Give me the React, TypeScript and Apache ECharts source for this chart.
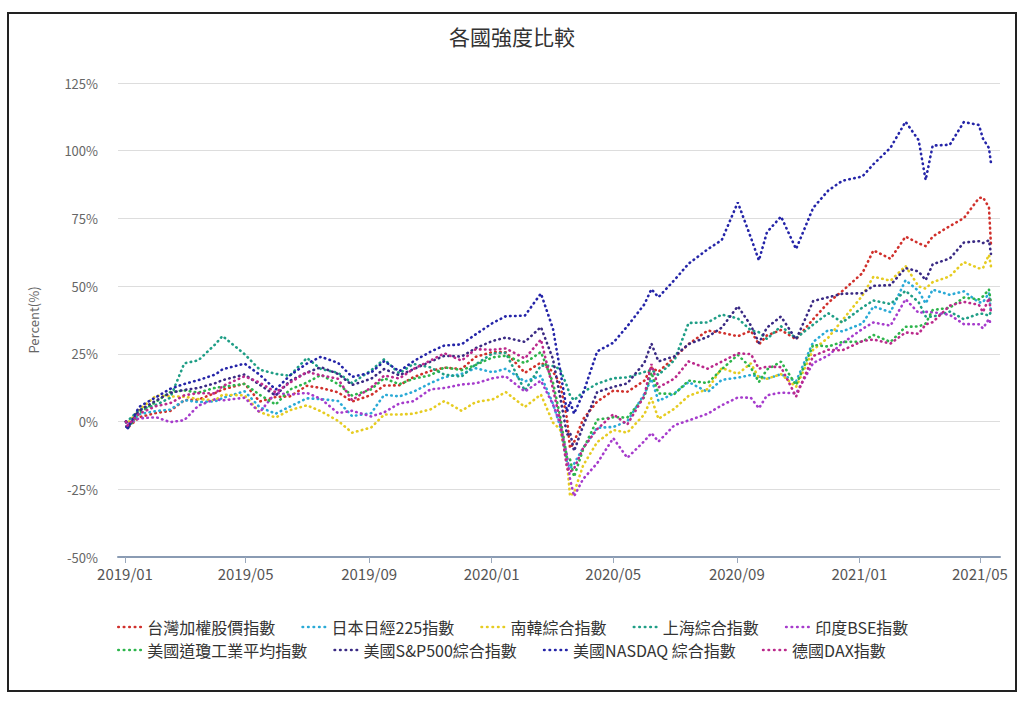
import React, { useEffect, useRef } from "react";
import * as echarts from "echarts";

const dates = [
  "2019-01-02", "2019-01-03", "2019-01-15", "2019-02-01", "2019-02-15", "2019-03-01", "2019-03-15", "2019-04-01", "2019-04-08", "2019-04-30",
  "2019-05-15", "2019-05-31", "2019-06-14", "2019-07-01", "2019-07-15", "2019-08-01", "2019-08-15", "2019-09-03", "2019-09-16", "2019-10-01",
  "2019-10-15", "2019-11-01", "2019-11-15", "2019-12-02", "2019-12-16",
  "2020-01-02", "2020-01-15", "2020-02-03", "2020-02-19", "2020-03-02", "2020-03-09", "2020-03-16", "2020-03-19", "2020-03-23", "2020-04-01",
  "2020-04-15", "2020-05-01", "2020-05-15", "2020-06-01", "2020-06-08", "2020-06-15", "2020-07-01", "2020-07-15", "2020-08-03", "2020-08-17",
  "2020-09-02", "2020-09-15", "2020-09-23", "2020-10-01", "2020-10-15", "2020-10-30", "2020-11-16", "2020-12-01", "2020-12-15",
  "2021-01-04", "2021-01-15", "2021-02-01", "2021-02-16", "2021-03-01", "2021-03-08", "2021-03-15", "2021-04-01", "2021-04-15", "2021-04-30",
  "2021-05-04", "2021-05-10", "2021-05-12",
];

const taiwan = [
  0, -2.5, 1.6, 3.2, 3.9, 7.9, 8.1, 10.6, 11.8, 14.0, 7.4, 9.1, 9.3, 13.2, 12.4, 10.8, 7.4, 9.8, 13.3, 13.4, 16.4, 18.7, 19.9, 19.4, 23.9,
  25.7, 25.6, 18.0, 21.8, 18.4, 14.1, 1.0, -9.8, -7.6, 0.9, 7.4, 11.4, 11.0, 15.1, 20.0, 18.4, 23.7, 28.6, 33.6, 32.8, 31.5, 33.5, 28.5, 31.8, 33.8, 30.4, 37.8, 43.9, 48.2,
  54.8, 63.2, 60.1, 68.3, 65.8, 64.8, 68.3, 72.2, 75.1, 82.5, 82.8, 79.1, 65.2,
];
const nikkei = [
  0, -2.3, 2.7, 3.9, 4.4, 7.9, 7.2, 7.5, 8.7, 11.2, 5.3, 2.9, 5.5, 8.6, 8.3, 7.6, 2.0, 3.1, 9.9, 9.3, 11.0, 14.2, 16.4, 17.6, 19.7,
  18.2, 19.5, 14.8, 16.9, 6.6, -1.6, -15.0, -17.3, -15.6, -9.7, -2.3, -2.0, 0.1, 10.2, 15.8, 7.6, 10.5, 14.6, 10.9, 15.4, 16.2, 17.2, 16.6, 15.8, 17.5, 14.8, 29.4, 33.8, 33.3,
  36.2, 42.5, 40.4, 52.2, 48.2, 43.6, 48.7, 46.8, 48.1, 44.0, 44.0, 47.5, 40.6,
];
const kospi = [
  0, -0.8, 4.3, 9.6, 9.3, 9.2, 8.3, 7.9, 9.9, 9.7, 3.5, 1.5, 4.2, 6.0, 3.8, 0.3, -4.1, -2.2, 2.6, 2.6, 2.9, 4.5, 7.6, 4.0, 7.2,
  8.2, 10.9, 5.4, 10.0, -0.4, -2.8, -14.7, -27.5, -26.3, -16.2, -7.6, -3.1, -4.1, 2.7, 8.7, 1.0, 4.8, 9.5, 12.0, 19.8, 17.6, 21.5, 16.1, 15.8, 17.5, 12.8, 26.5, 31.0, 37.4,
  46.5, 53.5, 52.0, 57.4, 49.9, 49.1, 51.5, 53.6, 58.9, 56.6, 56.6, 61.6, 57.3,
];
const shanghai = [
  0, 0.0, 4.3, 6.2, 8.8, 21.5, 22.6, 28.6, 31.6, 24.9, 19.2, 17.6, 16.9, 23.5, 19.4, 18.0, 14.2, 18.9, 23.0, 17.8, 21.3, 20.0, 17.3, 16.6, 21.1,
  25.2, 25.4, 11.4, 20.7, 20.5, 19.4, 13.1, 9.6, 7.9, 10.9, 14.0, 16.0, 16.3, 18.3, 19.1, 17.2, 22.7, 36.4, 36.6, 39.5, 38.1, 33.7, 33.0, 30.5, 35.2, 30.8, 35.8, 40.0, 36.6,
  42.1, 44.7, 43.4, 48.3, 44.1, 38.8, 38.7, 40.6, 37.8, 39.8, 39.8, 39.1, 40.5,
];
const sensex = [
  0, -1.1, 1.2, 1.6, -0.2, 0.5, 5.9, 8.3, 7.8, 8.8, 3.4, 10.7, 9.9, 10.6, 8.4, 3.1, 4.0, 1.9, 3.4, 6.7, 7.5, 11.9, 12.4, 13.7, 14.1,
  16.0, 16.7, 11.1, 15.1, 6.3, -0.7, -12.5, -21.2, -27.6, -21.2, -15.4, -6.1, -13.4, -7.2, -4.2, -7.4, -1.3, 0.4, 2.9, 6.0, 8.9, 8.8, 4.9, 9.7, 10.7, 10.4, 21.6, 24.4, 28.9,
  34.2, 36.6, 35.4, 45.2, 40.1, 40.5, 40.4, 39.4, 36.0, 35.9, 34.4, 37.9, 35.7,
];
const dow = [
  0, -2.8, 3.1, 7.4, 10.9, 11.5, 10.7, 12.5, 12.8, 13.9, 9.9, 6.3, 11.8, 14.4, 17.2, 13.9, 9.6, 11.9, 16.0, 13.8, 15.8, 17.1, 20.0, 19.0, 20.9,
  23.7, 24.3, 21.6, 25.7, 14.4, 2.2, -13.5, -14.0, -20.4, -10.3, 0.7, 1.6, 1.5, 9.1, 18.1, 10.4, 10.2, 15.1, 14.2, 19.3, 24.6, 19.9, 14.6, 19.2, 22.1, 13.5, 28.3, 27.7, 29.4,
  29.5, 32.0, 29.4, 35.0, 35.1, 36.2, 41.2, 42.0, 45.8, 45.1, 46.2, 48.8, 43.9,
];
const sp500 = [
  0, -2.5, 4.0, 7.8, 10.6, 11.7, 12.4, 14.2, 15.3, 17.4, 13.6, 9.6, 15.0, 18.1, 20.1, 17.6, 13.5, 15.8, 19.4, 17.1, 19.3, 22.1, 24.3, 24.0, 27.1,
  29.8, 31.0, 29.4, 34.9, 23.1, 9.4, -4.9, -4.0, -10.9, -1.6, 10.9, 12.8, 14.1, 21.7, 28.8, 22.2, 24.1, 28.6, 31.3, 34.7, 42.6, 35.5, 29.0, 34.7, 38.8, 30.3, 44.5, 45.9, 47.2,
  47.4, 50.1, 50.4, 56.7, 55.4, 52.2, 58.1, 60.2, 66.1, 66.6, 65.9, 66.9, 61.9,
];
const nasdaq = [
  0, -3.0, 5.4, 9.0, 12.1, 13.9, 15.3, 17.4, 19.3, 21.4, 17.3, 11.8, 17.0, 21.4, 23.9, 21.7, 16.5, 18.1, 22.3, 18.6, 22.2, 25.8, 28.1, 28.5, 32.2,
  36.4, 38.9, 39.1, 47.3, 34.3, 19.3, 3.6, 7.3, 2.9, 10.4, 25.9, 29.1, 35.2, 43.3, 48.9, 45.9, 52.3, 58.3, 63.6, 67.0, 80.9, 67.9, 59.5, 69.9, 75.7, 63.7, 78.9, 85.3, 88.9,
  90.5, 95.0, 101.1, 110.7, 103.9, 89.2, 101.9, 102.2, 110.6, 109.5, 104.5, 101.0, 95.5,
];
const dax = [
  0, -1.6, 2.9, 5.7, 6.8, 9.7, 10.5, 10.4, 13.1, 16.7, 14.4, 10.8, 14.3, 18.3, 17.1, 15.8, 7.9, 12.6, 17.0, 15.9, 19.4, 22.5, 25.2, 22.5, 26.7,
  26.5, 27.0, 23.3, 30.3, 12.1, 0.4, -17.4, -18.6, -17.4, -9.8, -2.8, 2.7, -1.1, 9.5, 21.2, 12.6, 15.9, 22.2, 19.5, 22.1, 25.2, 24.9, 19.5, 20.3, 20.1, 9.2, 24.2, 26.5, 26.3,
  29.7, 30.3, 28.8, 32.9, 32.4, 35.9, 36.7, 42.8, 44.2, 43.1, 40.4, 45.6, 40.4,
];

const seriesNames = [
  "台灣加權股價指數", "日本日經225指數", "南韓綜合指數", "上海綜合指數", "印度BSE指數",
  "美國道瓊工業平均指數", "美國S&P500綜合指數", "美國NASDAQ 綜合指數", "德國DAX指數",
];
const seriesValues = [taiwan, nikkei, kospi, shanghai, sensex, dow, sp500, nasdaq, dax];
const seriesColors = [
  "#d0302c", "#2aaad6", "#e6cc22", "#1f9e86", "#a63ccc",
  "#2db54c", "#3a2a84", "#2424a8", "#bb2a8c",
];

const xTickDates = ["2019-01-01", "2019-05-01", "2019-09-01", "2020-01-01", "2020-05-01", "2020-09-01", "2021-01-01", "2021-05-01"];
const yTitle = "Percent(%)";
const chartTitle = "各國強度比較";

const FONT = "'Noto Sans CJK TC', 'Noto Sans', sans-serif";

const toTs = (s: string) => {
  const [y, m, d] = s.split("-").map(Number);
  return Date.UTC(y, m - 1, d);
};

export default function App() {
  const ref = useRef<HTMLDivElement>(null);

  useEffect(() => {
    if (!ref.current) return;
    const chart = echarts.init(ref.current, null, { renderer: "svg" });
    const tickTs = xTickDates.map(toTs);
    const legendBase = {
      left: 112,
      itemWidth: 24,
      itemHeight: 10,
      itemGap: 26,
      textStyle: { fontSize: 16, color: "#333", fontFamily: FONT },
      itemStyle: { opacity: 0 },
      lineStyle: { width: 2.6, type: [0.5, 5], cap: "round" },
    };
    const option: any = {
      animation: false,
      textStyle: { fontFamily: FONT },
      title: {
        text: chartTitle,
        left: "center",
        top: 20,
        textStyle: { fontSize: 21, fontWeight: "normal", color: "#333", fontFamily: FONT },
      },
      legend: [
        { ...legendBase, data: seriesNames.slice(0, 5), top: 614 },
        { ...legendBase, data: seriesNames.slice(5), top: 637 },
      ],
      grid: { left: 118, right: 24, top: 83, bottom: 146 },
      xAxis: {
        type: "value",
        min: toTs("2018-12-25"),
        max: toTs("2021-05-21"),
        axisLine: { show: true, onZero: false, lineStyle: { color: "#8a9bb3", width: 2 } },
        axisTick: {
          show: true,
          customValues: tickTs,
          length: 6,
          lineStyle: { color: "#9aa8bc" },
        },
        axisLabel: {
          customValues: tickTs,
          color: "#555",
          fontSize: 15,
          margin: 9,
          fontFamily: FONT,
          formatter: (v: number) => {
            const d = new Date(v);
            const m = d.getUTCMonth() + 1;
            return d.getUTCFullYear() + "/" + (m < 10 ? "0" + m : "" + m);
          },
        },
        splitLine: { show: false },
      },
      yAxis: {
        type: "value",
        min: -50,
        max: 125,
        interval: 25,
        name: yTitle,
        nameLocation: "middle",
        nameGap: 78,
        nameRotate: 90,
        nameTextStyle: { color: "#666", fontSize: 13, fontFamily: FONT },
        axisLine: { show: false },
        axisTick: { show: false },
        axisLabel: { formatter: "{value}%", color: "#666", fontSize: 13, margin: 20, fontFamily: FONT },
        splitLine: { lineStyle: { color: "#dddddd", width: 1 } },
      },
      series: seriesNames.map((name, i) => ({
        name,
        type: "line",
        symbol: "none",
        showSymbol: false,
        color: seriesColors[i],
        lineStyle: { width: 2.6, type: [0.5, 4.5], cap: "round", color: seriesColors[i] },
        data: dates.map((d, j) => [toTs(d), seriesValues[i][j]]),
      })),
    };
    chart.setOption(option);
    return () => chart.dispose();
  }, []);

  return (
    <div style={{ position: "fixed", left: 0, top: 0, width: 1024, height: 703, background: "#fff" }}>
      <div
        style={{
          position: "absolute",
          left: 7,
          top: 12,
          width: 1010,
          height: 680,
          border: "2px solid #222",
          boxSizing: "border-box",
        }}
      />
      <div ref={ref} style={{ position: "absolute", left: 0, top: 0, width: 1024, height: 703 }} />
    </div>
  );
}
